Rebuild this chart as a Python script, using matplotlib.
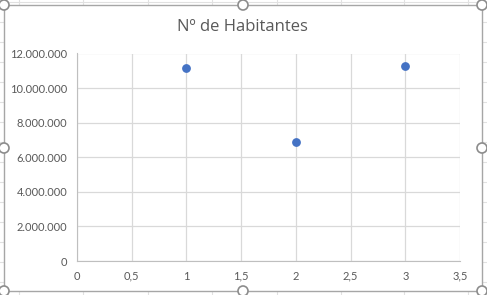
import matplotlib.pyplot as plt
from matplotlib.patches import Rectangle, Circle
from matplotlib.ticker import FuncFormatter, MultipleLocator

# Data
x_vals = [1, 2, 3]
habitantes = [11190000, 6860000, 11250000]
title = "Nº de Habitantes"

W, H = 487, 295
fig = plt.figure(figsize=(W / 100, H / 100), dpi=100)
plt.rcParams['font.family'] = ['Lato', 'DejaVu Sans']

# spreadsheet gridlines behind the chart
bg = fig.add_axes([0, 0, 1, 1])
bg.set_xlim(0, W)
bg.set_ylim(H, 0)
bg.axis('off')
for gx in [19, 83, 148, 212, 277, 341, 404, 468]:
    bg.plot([gx, gx], [0, H], color='#e1e1e1', lw=0.8, zorder=1)
for gy in range(2, H, 20):
    bg.plot([0, W], [gy, gy], color='#e1e1e1', lw=0.8, zorder=1)
bg.add_patch(Rectangle((4, 5), 478, 286, facecolor='white', edgecolor='#a6a6a6', lw=1.0, zorder=3))

ax = fig.add_axes([77 / W, (H - 261) / H, (460 - 77) / W, (261 - 53.5) / H])
ax.scatter(x_vals, habitantes, s=28, color='#4472c4', zorder=3)
ax.set_xlim(0, 3.5)
ax.set_ylim(0, 12000000)
ax.xaxis.set_major_locator(MultipleLocator(0.5))
ax.yaxis.set_major_locator(MultipleLocator(2000000))
ax.xaxis.set_major_formatter(FuncFormatter(lambda v, p: f"{v:g}".replace('.', ',')))
ax.yaxis.set_major_formatter(FuncFormatter(lambda v, p: f"{int(v):,}".replace(',', '.')))
ax.grid(True, color='#d9d9d9', lw=0.9)
ax.set_axisbelow(True)
for s in ['top', 'right']:
    ax.spines[s].set_visible(False)
for s in ['left', 'bottom']:
    ax.spines[s].set_color('#bfbfbf')
ax.tick_params(length=0, labelsize=8, labelcolor='#595959', pad=7)
ax.set_facecolor('none')

fig.text(242 / W, 1 - 27 / H, title, ha='center', va='center', fontsize=12,
         color='#595959', family=['Open Sans', 'DejaVu Sans'])

# selection handles
for hx, hy in [(4, 5), (243, 5), (482, 5), (4, 148), (482, 148), (4, 291), (243, 291), (482, 291)]:
    bg.add_patch(Circle((hx, hy), 5, facecolor='white', edgecolor='#8c8c8c', lw=1.2, zorder=5))

fig.savefig('out.png', dpi=100)
